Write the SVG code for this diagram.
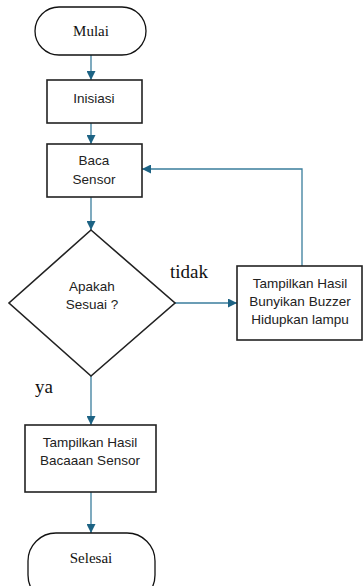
<svg xmlns="http://www.w3.org/2000/svg" width="363" height="586" viewBox="0 0 363 586">
<style>
.box{fill:#fff;stroke:#222;stroke-width:1.6}
.term{fill:#fff;stroke:#111;stroke-width:1.3}
.t{font-family:"Liberation Sans","Open Sans",sans-serif;font-size:13.5px;fill:#222;text-anchor:middle}
.s{font-family:"Liberation Serif","DejaVu Serif",serif;font-size:15px;fill:#111;text-anchor:middle}
.lbl{font-family:"Liberation Serif","DejaVu Serif",serif;font-size:19px;fill:#111}
.c{fill:none;stroke:#3a7d9c;stroke-width:1.3}
</style>
<defs>
<marker id="ah" viewBox="0 0 10 10" refX="10" refY="5" markerWidth="9" markerHeight="9" markerUnits="userSpaceOnUse" orient="auto">
<path d="M0,0 L10,5 L0,10 z" fill="#1d6384"/>
</marker>
</defs>
<g id="connectors">
<path class="c" d="M91,55 V80" marker-end="url(#ah)"/>
<path class="c" d="M91,123 V144" marker-end="url(#ah)"/>
<path class="c" d="M91,197 V230" marker-end="url(#ah)"/>
<path class="c" d="M175,303 H237" marker-end="url(#ah)"/>
<path class="c" d="M302,266 V169 H142" marker-end="url(#ah)"/>
<path class="c" d="M91,376 V425" marker-end="url(#ah)"/>
<path class="c" d="M91,492 V533" marker-end="url(#ah)"/>
<text class="lbl" x="170" y="278">tidak</text>
<text class="lbl" x="35" y="393">ya</text>
</g>
<g id="mulai">
<rect class="term" x="35" y="7" width="111" height="48" rx="24" ry="24"/>
<text class="s" x="91" y="36">Mulai</text>
</g>
<g id="inisiasi">
<rect class="box" x="47" y="80" width="95" height="43"/>
<text class="t" x="94" y="103">Inisiasi</text>
</g>
<g id="baca">
<rect class="box" x="47" y="144" width="95" height="53"/>
<text class="t" x="94" y="165">Baca</text>
<text class="t" x="94" y="184">Sensor</text>
</g>
<g id="sesuai">
<path class="box" d="M91,230 L175,303 L91,376 L9,303 Z"/>
<text class="t" x="92" y="291">Apakah</text>
<text class="t" x="92" y="309">Sesuai ?</text>
</g>
<g id="tampil-gagal">
<rect class="box" x="237" y="266" width="125" height="74"/>
<text class="t" x="300" y="288">Tampilkan Hasil</text>
<text class="t" x="300" y="306">Bunyikan Buzzer</text>
<text class="t" x="300" y="324">Hidupkan lampu</text>
</g>
<g id="tampil-hasil">
<rect class="box" x="25" y="425" width="131" height="67"/>
<text class="t" x="90" y="447">Tampilkan Hasil</text>
<text class="t" x="90" y="465">Bacaaan Sensor</text>
</g>
<g id="selesai">
<rect class="term" x="28" y="533" width="127" height="70" rx="28" ry="28"/>
<text class="s" x="91" y="563">Selesai</text>
</g>
</svg>
